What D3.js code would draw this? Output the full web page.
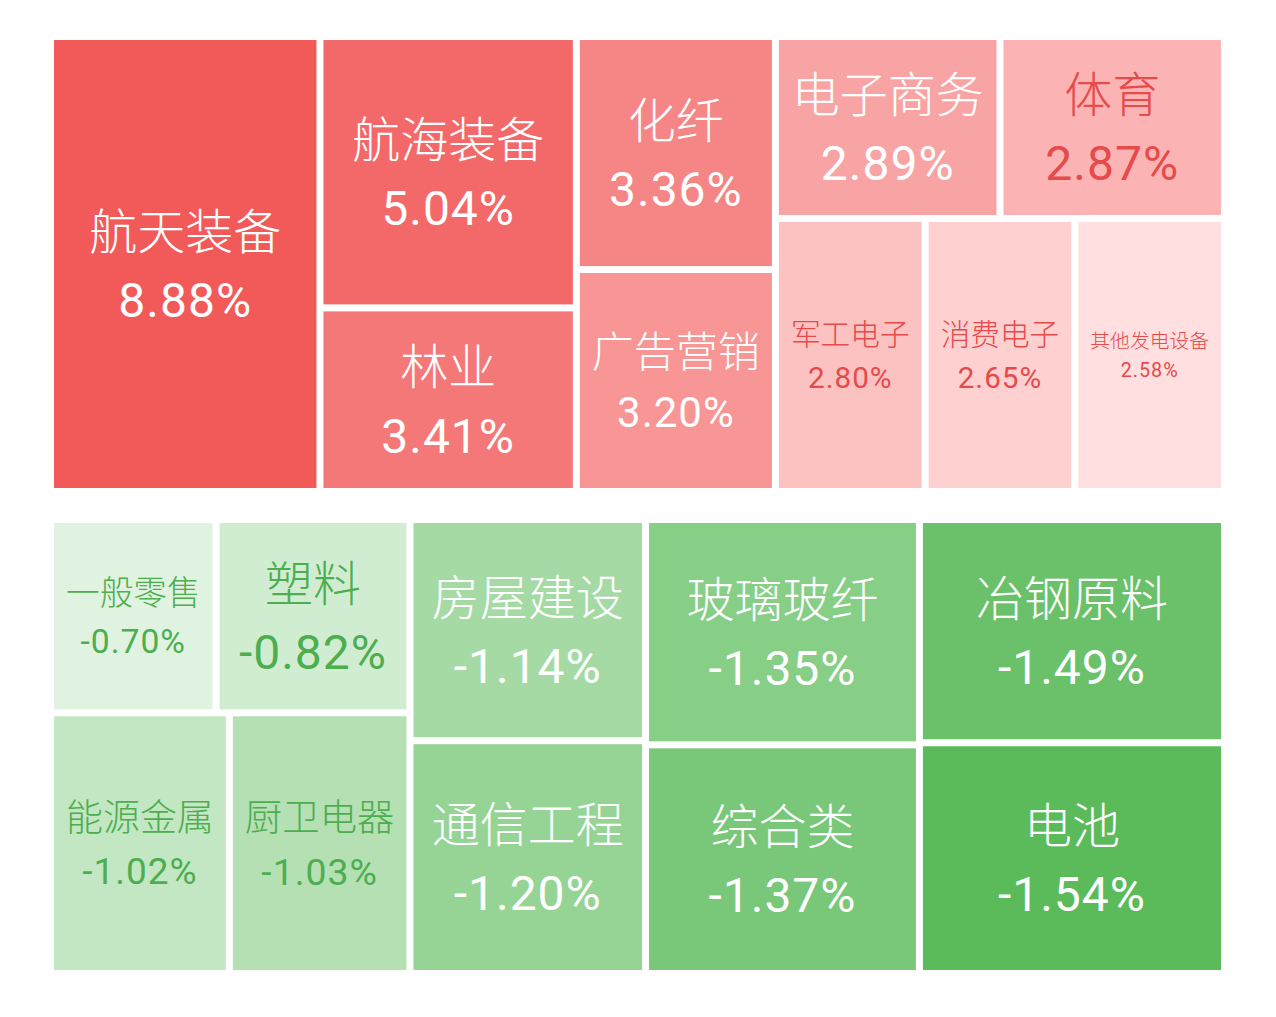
<!DOCTYPE html>
<html>
<head>
<meta charset="utf-8">
<script src="https://cdn.jsdelivr.net/npm/d3@7"></script>
<style>
  body { margin: 0; background: #fff; }
</style>
</head>
<body>
<div id="chart"></div>
<script>
// 涨幅板块
const upNames = ["航天装备", "航海装备", "林业", "化纤", "广告营销", "电子商务", "体育", "军工电子", "消费电子", "其他发电设备"];
const upValues = [8.88, 5.04, 3.41, 3.36, 3.20, 2.89, 2.87, 2.80, 2.65, 2.58];

// 跌幅板块
const downNames = ["电池", "冶钢原料", "综合类", "玻璃玻纤", "通信工程", "房屋建设", "厨卫电器", "能源金属", "塑料", "一般零售"];
const downValues = [-1.54, -1.49, -1.37, -1.35, -1.20, -1.14, -1.03, -1.02, -0.82, -0.70];

const width = 1276, height = 1017;

const svg = d3.select("#chart")
  .append("svg")
  .attr("width", width)
  .attr("height", height);

// tiret court comme dans l'original
const fmt = d3.formatLocale({ decimal: ".", thousands: ",", grouping: [3], currency: ["", ""], minus: "-" }).format(".2f");

function drawBlock(names, values, opt) {
  const maxAbs = d3.max(values, v => Math.abs(v));
  const items = names.map((name, i) => ({
    name: name,
    v: values[i],
    // petites cases : surface minimale = 1/3 de la plus grande
    size: Math.max(Math.abs(values[i]), maxAbs / 3)
  }));

  const root = d3.hierarchy({ children: items })
    .sum(d => d.size || 0)
    .sort((a, b) => b.value - a.value || Math.abs(b.data.v) - Math.abs(a.data.v));

  d3.treemap()
    .tile(d3.treemapSquarify.ratio(1))
    .size([opt.w, opt.h])
    .paddingInner(7)(root);

  const leaves = root.leaves();
  const color = d3.scaleLinear()
    .domain([0, leaves.length - 1])
    .range([opt.dark, opt.light])
    .interpolate(d3.interpolateRgb);

  const g = svg.append("g").attr("transform", `translate(${opt.x},${opt.y})`);

  // le bloc des baisses est retourné (plus grande case en bas à droite)
  const X = v => opt.flip ? opt.w - v : v;
  const Y = v => opt.flip ? opt.h - v : v;

  const cell = g.selectAll("g.cell")
    .data(leaves)
    .enter().append("g")
    .attr("class", "cell")
    .attr("transform", d => `translate(${Math.min(X(d.x0), X(d.x1))},${Math.min(Y(d.y0), Y(d.y1))})`);

  cell.append("rect")
    .attr("width", d => d.x1 - d.x0)
    .attr("height", d => d.y1 - d.y0)
    .attr("fill", (d, i) => color(i));

  cell.each(function (d, i) {
    const c = d3.select(this);
    const w = d.x1 - d.x0, h = d.y1 - d.y0;
    const fs = Math.min(48, (w - 24) / d.data.name.length);
    const fill = i < 6 ? "#ffffff" : opt.text;

    c.append("text")
      .attr("x", w / 2)
      .attr("y", h / 2 - fs * 0.76)
      .attr("text-anchor", "middle")
      .attr("dominant-baseline", "central")
      .attr("font-family", "'Noto Sans CJK SC', sans-serif")
      .attr("font-weight", 300)
      .attr("font-size", fs + "px")
      .attr("fill", fill)
      .text(d.data.name);

    c.append("text")
      .attr("x", w / 2)
      .attr("y", h / 2 + fs * 0.76)
      .attr("text-anchor", "middle")
      .attr("dominant-baseline", "central")
      .attr("font-family", "Roboto, sans-serif")
      .attr("font-size", fs + "px")
      .attr("letter-spacing", "1px")
      .attr("fill", fill)
      .text(fmt(d.data.v) + "%");
  });
}

drawBlock(upNames, upValues, {
  x: 54, y: 40, w: 1167, h: 448,
  dark: "#f25a5a", light: "#ffdfdf", text: "#e64a4b", flip: false
});

drawBlock(downNames, downValues, {
  x: 54, y: 523, w: 1167, h: 447,
  dark: "#5bbb5b", light: "#e0f3e0", text: "#4dae4f", flip: true
});
</script>
</body>
</html>
